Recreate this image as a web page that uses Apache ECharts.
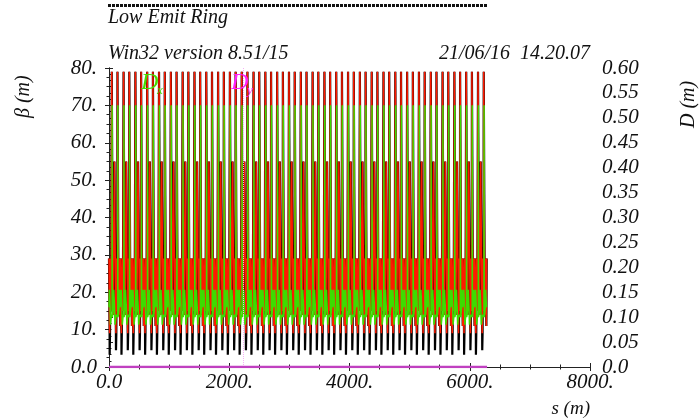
<!DOCTYPE html>
<html><head><meta charset="utf-8">
<script src="https://cdn.jsdelivr.net/npm/echarts@6/dist/echarts.min.js"></script>
<style>html,body{margin:0;padding:0;background:#fff}#c{width:700px;height:420px}</style>
</head><body><div id="c"></div>
<script>
// ---- data ----
const nCells = 32;          // periodic cells of the ring
const cellLength = 196.5;   // m
const xTicks = [0, 2000, 4000, 6000, 8000];
const betaTicks = [0, 10, 20, 30, 40, 50, 60, 70, 80];
const dispTicks = [0, 0.05, 0.10, 0.15, 0.20, 0.25, 0.30, 0.35, 0.40, 0.45, 0.50, 0.55, 0.60];
// beta_y (red) over one cell: [s offset (m), beta (m)]
const betaYCell = [[0,29],[5,29],[10,9],[17,9],[22,29],[27,29],[32,15],[37,29],[44,29],[46,79],[58,79],[60,29],[66,29],[72,14],[78,29],[88,29],[90,55],[102,55],[104,29],
  [110,29],[115,9],[122,9],[127,29],[130,29],[135,15],[139,29],[141,79],[153,79],[155,29],[161,29],[167,14],[173,29],[180,29],[185,11],[190,29]];
// beta_x (black) over one cell: runs under beta_y except in its two deep minima
const betaXCell = [[0,29],[5,29],[10,9],[11,3.3],[16,3.3],[17,9],[22,29],[27,29],[32,15],[37,29],[44,29],[46,79],[58,79],[60,29],[66,29],[72,14],[78,29],[88,29],[90,55],[102,55],[104,29],
  [110,29],[115,9],[116,4.5],[121,4.5],[122,9],[127,29],[130,29],[135,15],[139,29],[141,79],[153,79],[155,29],[161,29],[167,14],[173,29],[180,29],[185,11],[190,29]];
// D_x (green) over one cell, in m
const dispXCell = [[0,0.12],[6,0.155],[12,0.158],[18,0.12],[24,0.085],[30,0.082],[36,0.10],[46,0.105],[50,0.10],[52,0.525],[54,0.10],[62,0.105],[74,0.12],[80,0.155],[86,0.158],[92,0.12],
  [100,0.085],[106,0.082],[112,0.10],[126,0.105],[145,0.10],[147,0.525],[149,0.10],[156,0.105],[168,0.12],[174,0.155],[180,0.158],[186,0.12]];
// D_y (magenta): zero everywhere
const dispYCell = [[0,0]];
const dyMarkS = 2240;

function tile(cell){
  const out=[];
  for(let k=0;k<nCells;k++) for(const p of cell) out.push([k*cellLength+p[0], p[1]]);
  out.push([nCells*cellLength, cell[0][1]]);
  return out;
}
const serif = 'Liberation Serif';
const chart = echarts.init(document.getElementById('c'), null, {renderer:'canvas'});
const axisCommon = {
  axisLine:{show:true,lineStyle:{color:'#222',width:1}},
  axisTick:{show:true,length:4,lineStyle:{color:'#222'}},
  minorTick:{show:true,splitNumber:4,length:2.5,lineStyle:{color:'#222'}},
  splitLine:{show:false},
  axisLabel:{fontFamily:serif,fontStyle:'italic',fontSize:21,color:'#111'}
};
const fmtNum = v => v===0 ? '0.0' : v+'.';
chart.setOption({
  animation:false,
  grid:{left:109,right:110,top:68,bottom:53},
  xAxis:[
    Object.assign({},axisCommon,{type:'value',min:xTicks[0],max:xTicks[xTicks.length-1],interval:2000,position:'bottom',
      axisLabel:Object.assign({},axisCommon.axisLabel,{margin:5,formatter:fmtNum})}),
    Object.assign({},axisCommon,{type:'value',min:xTicks[0],max:xTicks[xTicks.length-1],interval:2000,position:'top',axisLabel:{show:false}})
  ],
  yAxis:[
    Object.assign({},axisCommon,{type:'value',min:betaTicks[0],max:betaTicks[betaTicks.length-1],interval:10,position:'left',
      axisLabel:Object.assign({},axisCommon.axisLabel,{margin:12,formatter:fmtNum})}),
    Object.assign({},axisCommon,{type:'value',min:dispTicks[0],max:dispTicks[dispTicks.length-1],interval:0.05,position:'right',
      axisLabel:Object.assign({},axisCommon.axisLabel,{margin:12,formatter:v=>v===0?'0.0':v.toFixed(2)})})
  ],
  series:[
    {type:'line',name:'betax',data:tile(betaXCell),showSymbol:false,lineStyle:{color:'#000',width:2.2},z:2},
    {type:'line',name:'betay',data:tile(betaYCell),showSymbol:false,lineStyle:{color:'#ff1a00',width:1.5},z:3},
    {type:'line',name:'Dx',yAxisIndex:1,data:tile(dispXCell),showSymbol:false,lineStyle:{color:'#3ddc00',width:1.5},z:4},
    {type:'line',name:'Dy',yAxisIndex:1,data:tile(dispYCell),showSymbol:false,lineStyle:{color:'#c040c0',width:2.5},z:5,
      markLine:{symbol:'none',silent:true,label:{show:false},lineStyle:{color:'#f6b0f6',type:'dotted',width:1},data:[{xAxis:dyMarkS}]}}
  ],
  graphic:[
    {type:'line',z:100,shape:{x1:108,y1:5.5,x2:488,y2:5.5},style:{stroke:'#111',lineWidth:3,lineDash:[3,1]}},
    {type:'text',z:100,left:108,top:8,style:{text:'Low Emit Ring',font:'italic 20px "Liberation Serif"',fill:'#111'}},
    {type:'text',z:100,left:108,top:44,style:{text:'Win32 version 8.51/15',font:'italic 20px "Liberation Serif"',fill:'#111'}},
    {type:'text',z:100,right:110,top:44,style:{text:'21/06/16  14.20.07',font:'italic 20px "Liberation Serif"',fill:'#111'}},
    {type:'text',z:100,x:14,y:118,rotation:Math.PI/2,style:{text:'β (m)',font:'italic 20px "Liberation Serif"',fill:'#111'}},
    {type:'text',z:100,x:679,y:128,rotation:Math.PI/2,style:{text:'D (m)',font:'italic 20px "Liberation Serif"',fill:'#111'}},
    {type:'text',z:100,right:110,top:399,style:{text:'s (m)',font:'italic 19px "Liberation Serif"',fill:'#111'}},
    {type:'text',z:100,x:141,y:71,style:{text:'D',font:'italic 24px "Liberation Serif"',fill:'#44dd00'}},
    {type:'text',z:100,x:157,y:84,style:{text:'x',font:'italic 13px "Liberation Serif"',fill:'#44dd00'}},
    {type:'text',z:100,x:231,y:71,style:{text:'D',font:'italic 24px "Liberation Serif"',fill:'#ff22ff'}},
    {type:'text',z:100,x:247,y:84,style:{text:'y',font:'italic 13px "Liberation Serif"',fill:'#ff22ff'}}
  ]
});
</script></body></html>
